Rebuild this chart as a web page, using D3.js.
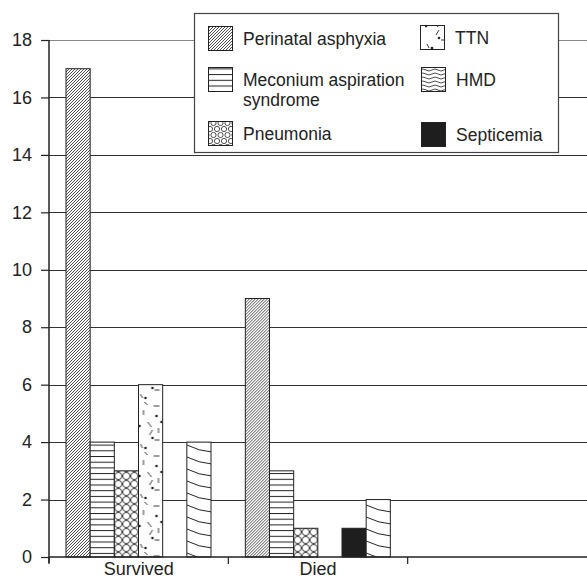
<!DOCTYPE html>
<html>
<head>
<meta charset="utf-8">
<script src="https://cdn.jsdelivr.net/npm/d3@7"></script>
<style>
  html, body { margin: 0; padding: 0; background: #fff; }
  svg { display: block; font-family: "Liberation Sans", Arial, sans-serif; }
</style>
</head>
<body>
<div id="chart"></div>
<script>
// chart values
const categories = ["Survived", "Died", ""];
const series = ["Perinatal asphyxia", "Meconium aspiration syndrome", "Pneumonia", "TTN", "Septicemia", "HMD"];
const survived = [17, 4, 3, 6, 0, 4];
const died = [9, 3, 1, 0, 1, 2];
const yTicks = [0, 2, 4, 6, 8, 10, 12, 14, 16, 18];

const W = 587, H = 579;
const svg = d3.select("#chart").append("svg")
    .attr("width", W)
    .attr("height", H);

const defs = svg.append("defs");
const ink = "#222";

// patterns
const pa = defs.append("pattern").attr("id", "p-pa").attr("patternUnits", "userSpaceOnUse")
  .attr("width", 3).attr("height", 3);
pa.append("rect").attr("width", 3).attr("height", 3).attr("fill", "#fff");
pa.append("path").attr("d", "M-1,1 L1,-1 M0,3 L3,0 M2,4 L4,2").attr("stroke", ink).attr("stroke-width", 0.8);

const mas = defs.append("pattern").attr("id", "p-mas").attr("patternUnits", "userSpaceOnUse")
  .attr("width", 10).attr("height", 5.7);
mas.append("rect").attr("width", 10).attr("height", 5.7).attr("fill", "#fff");
mas.append("line").attr("x1", 0).attr("x2", 10).attr("y1", 0.5).attr("y2", 0.5).attr("stroke", ink).attr("stroke-width", 1);

const pn = defs.append("pattern").attr("id", "p-pn").attr("patternUnits", "userSpaceOnUse")
  .attr("width", 8).attr("height", 8);
pn.append("rect").attr("width", 8).attr("height", 8).attr("fill", "#fff");
pn.append("circle").attr("cx", 4).attr("cy", 4).attr("r", 3.6).attr("fill", "none").attr("stroke", ink).attr("stroke-width", 0.9);

const pnL = defs.append("pattern").attr("id", "p-pn-l").attr("patternUnits", "userSpaceOnUse")
  .attr("width", 7).attr("height", 12);
pnL.append("rect").attr("width", 7).attr("height", 12).attr("fill", "#fff");
[[3.5, 3], [0, 9], [7, 9]].forEach(c => pnL.append("circle").attr("cx", c[0]).attr("cy", c[1]).attr("r", 2.6)
  .attr("fill", "none").attr("stroke", ink).attr("stroke-width", 0.8));

const ttn = defs.append("pattern").attr("id", "p-ttn").attr("patternUnits", "userSpaceOnUse")
  .attr("width", 25).attr("height", 50);
ttn.append("rect").attr("width", 25).attr("height", 50).attr("fill", "#fff");
ttn.append("path")
  .attr("d", "M15,6 L21,6 M5,10 L5,15 M9,22 L13,27 M11,35 L14,30 M20,28 L20,33 M16,40 L21,40 M2,44 L4,48 M6,2 L9,5")
  .attr("stroke", ink).attr("stroke-width", 0.9).attr("fill", "none");
[[18, 16], [23, 22], [1, 26], [14, 38], [7, 48]].forEach(c => ttn.append("circle")
  .attr("cx", c[0]).attr("cy", c[1]).attr("r", 1.3).attr("fill", ink));

const hmd = defs.append("pattern").attr("id", "p-hmd").attr("patternUnits", "userSpaceOnUse")
  .attr("width", 25).attr("height", 12);
hmd.append("rect").attr("width", 25).attr("height", 12).attr("fill", "#fff");
hmd.append("path").attr("d", "M0,1 Q12,7 25,8 M0,13 Q12,19 25,20 M0,-11 Q12,-5 25,-4")
  .attr("stroke", ink).attr("stroke-width", 1).attr("fill", "none");

const hmdL = defs.append("pattern").attr("id", "p-hmd-l").attr("patternUnits", "userSpaceOnUse")
  .attr("width", 12).attr("height", 4);
hmdL.append("rect").attr("width", 12).attr("height", 4).attr("fill", "#fff");
hmdL.append("path").attr("d", "M0,2 Q3,0 6,2 T12,2").attr("stroke", ink).attr("stroke-width", 0.8).attr("fill", "none");

const fills = {
  "Perinatal asphyxia": "url(#p-pa)",
  "Meconium aspiration syndrome": "url(#p-mas)",
  "Pneumonia": "url(#p-pn)",
  "TTN": "url(#p-ttn)",
  "Septicemia": "#1e1e1e",
  "HMD": "url(#p-hmd)"
};
const legendFills = Object.assign({}, fills, { "Pneumonia": "url(#p-pn-l)", "HMD": "url(#p-hmd-l)" });

// scales
const x0 = d3.scaleBand().domain(categories).range([49, W]).padding(0);
const x1 = d3.scaleBand().domain(series).range([17, 162]).padding(0);
const y = d3.scaleLinear().domain([0, 18]).range([557, 40]);

// gridlines
svg.append("g").selectAll("line")
  .data(yTicks.filter(d => d > 0))
  .join("line")
    .attr("x1", 49).attr("x2", W)
    .attr("y1", d => Math.round(y(d)) + 0.5).attr("y2", d => Math.round(y(d)) + 0.5)
    .attr("stroke", d => d === 18 ? "#888" : "#333")
    .attr("stroke-width", 1.2);

// bars
const rows = [survived, died];
const barData = [];
rows.forEach((vals, ci) => vals.forEach((v, si) => {
  if (v > 0) barData.push({ cat: categories[ci], key: series[si], value: v });
}));

svg.append("g").selectAll("g")
  .data(barData)
  .join("g")
    .attr("transform", d => `translate(${x0(d.cat) + x1(d.key)},0)`)
  .append("rect")
    .attr("x", 0)
    .attr("y", d => y(d.value))
    .attr("width", x1.bandwidth())
    .attr("height", d => y(0) - y(d.value))
    .attr("fill", d => fills[d.key])
    .attr("stroke", ink)
    .attr("stroke-width", 1);

// y axis
const yAxis = svg.append("g")
  .attr("transform", "translate(49,0)")
  .call(d3.axisLeft(y).tickValues(yTicks).tickSize(8).tickPadding(9));
yAxis.select(".domain").attr("d", `M0,${y(18)}V563`).attr("stroke", ink).attr("stroke-width", 1.5);
yAxis.selectAll(".tick line").attr("stroke", ink).attr("stroke-width", 1.2);
yAxis.selectAll(".tick text").attr("font-size", 18).attr("fill", "#222")
  .attr("font-family", "Liberation Sans, Arial, sans-serif");

// x axis
const xAxis = svg.append("g")
  .attr("transform", `translate(0,${y(0)})`)
  .call(d3.axisBottom(x0).tickSize(0));
xAxis.select(".domain").attr("d", `M49,0H${W}`).attr("stroke", ink).attr("stroke-width", 1.5);
xAxis.selectAll(".tick text")
  .attr("y", 17.5).attr("dy", 0)
  .attr("font-size", 18).attr("fill", "#222")
  .attr("font-family", "Liberation Sans, Arial, sans-serif");
xAxis.append("g").selectAll("line")
  .data(categories)
  .join("line")
    .attr("x1", d => x0(d)).attr("x2", d => x0(d))
    .attr("y1", 0).attr("y2", 7)
    .attr("stroke", ink).attr("stroke-width", 1.2);

// legend
const legend = svg.append("g");
legend.append("rect")
  .attr("x", 194.5).attr("y", 13.5).attr("width", 364).attr("height", 139)
  .attr("fill", "#fff").attr("stroke", "#444").attr("stroke-width", 1.2);

const legendItems = [
  { key: "Perinatal asphyxia", sx: 208, sy: 26, lines: ["Perinatal asphyxia"] },
  { key: "Meconium aspiration syndrome", sx: 208, sy: 67, lines: ["Meconium aspiration", "syndrome"] },
  { key: "Pneumonia", sx: 208, sy: 121, lines: ["Pneumonia"] },
  { key: "TTN", sx: 420, sy: 25, lines: ["TTN"] },
  { key: "HMD", sx: 421, sy: 67, lines: ["HMD"] },
  { key: "Septicemia", sx: 421, sy: 122, lines: ["Septicemia"] }
];

const li = legend.selectAll("g.item")
  .data(legendItems)
  .join("g")
    .attr("class", "item");
li.append("rect")
  .attr("x", d => d.sx + 0.5).attr("y", d => d.sy + 0.5)
  .attr("width", 24).attr("height", 24)
  .attr("fill", d => legendFills[d.key])
  .attr("stroke", ink).attr("stroke-width", 1);
li.append("text")
  .attr("x", d => d.sx + 35)
  .attr("y", d => d.sy + 19)
  .attr("font-size", 17.5)
  .attr("fill", "#222")
  .selectAll("tspan")
  .data(d => d.lines.map((t, i) => ({ t, i, x: d.sx + 35 })))
  .join("tspan")
    .attr("x", d => d.x)
    .attr("dy", d => d.i === 0 ? 0 : 20)
    .text(d => d.t);
</script>
</body>
</html>
